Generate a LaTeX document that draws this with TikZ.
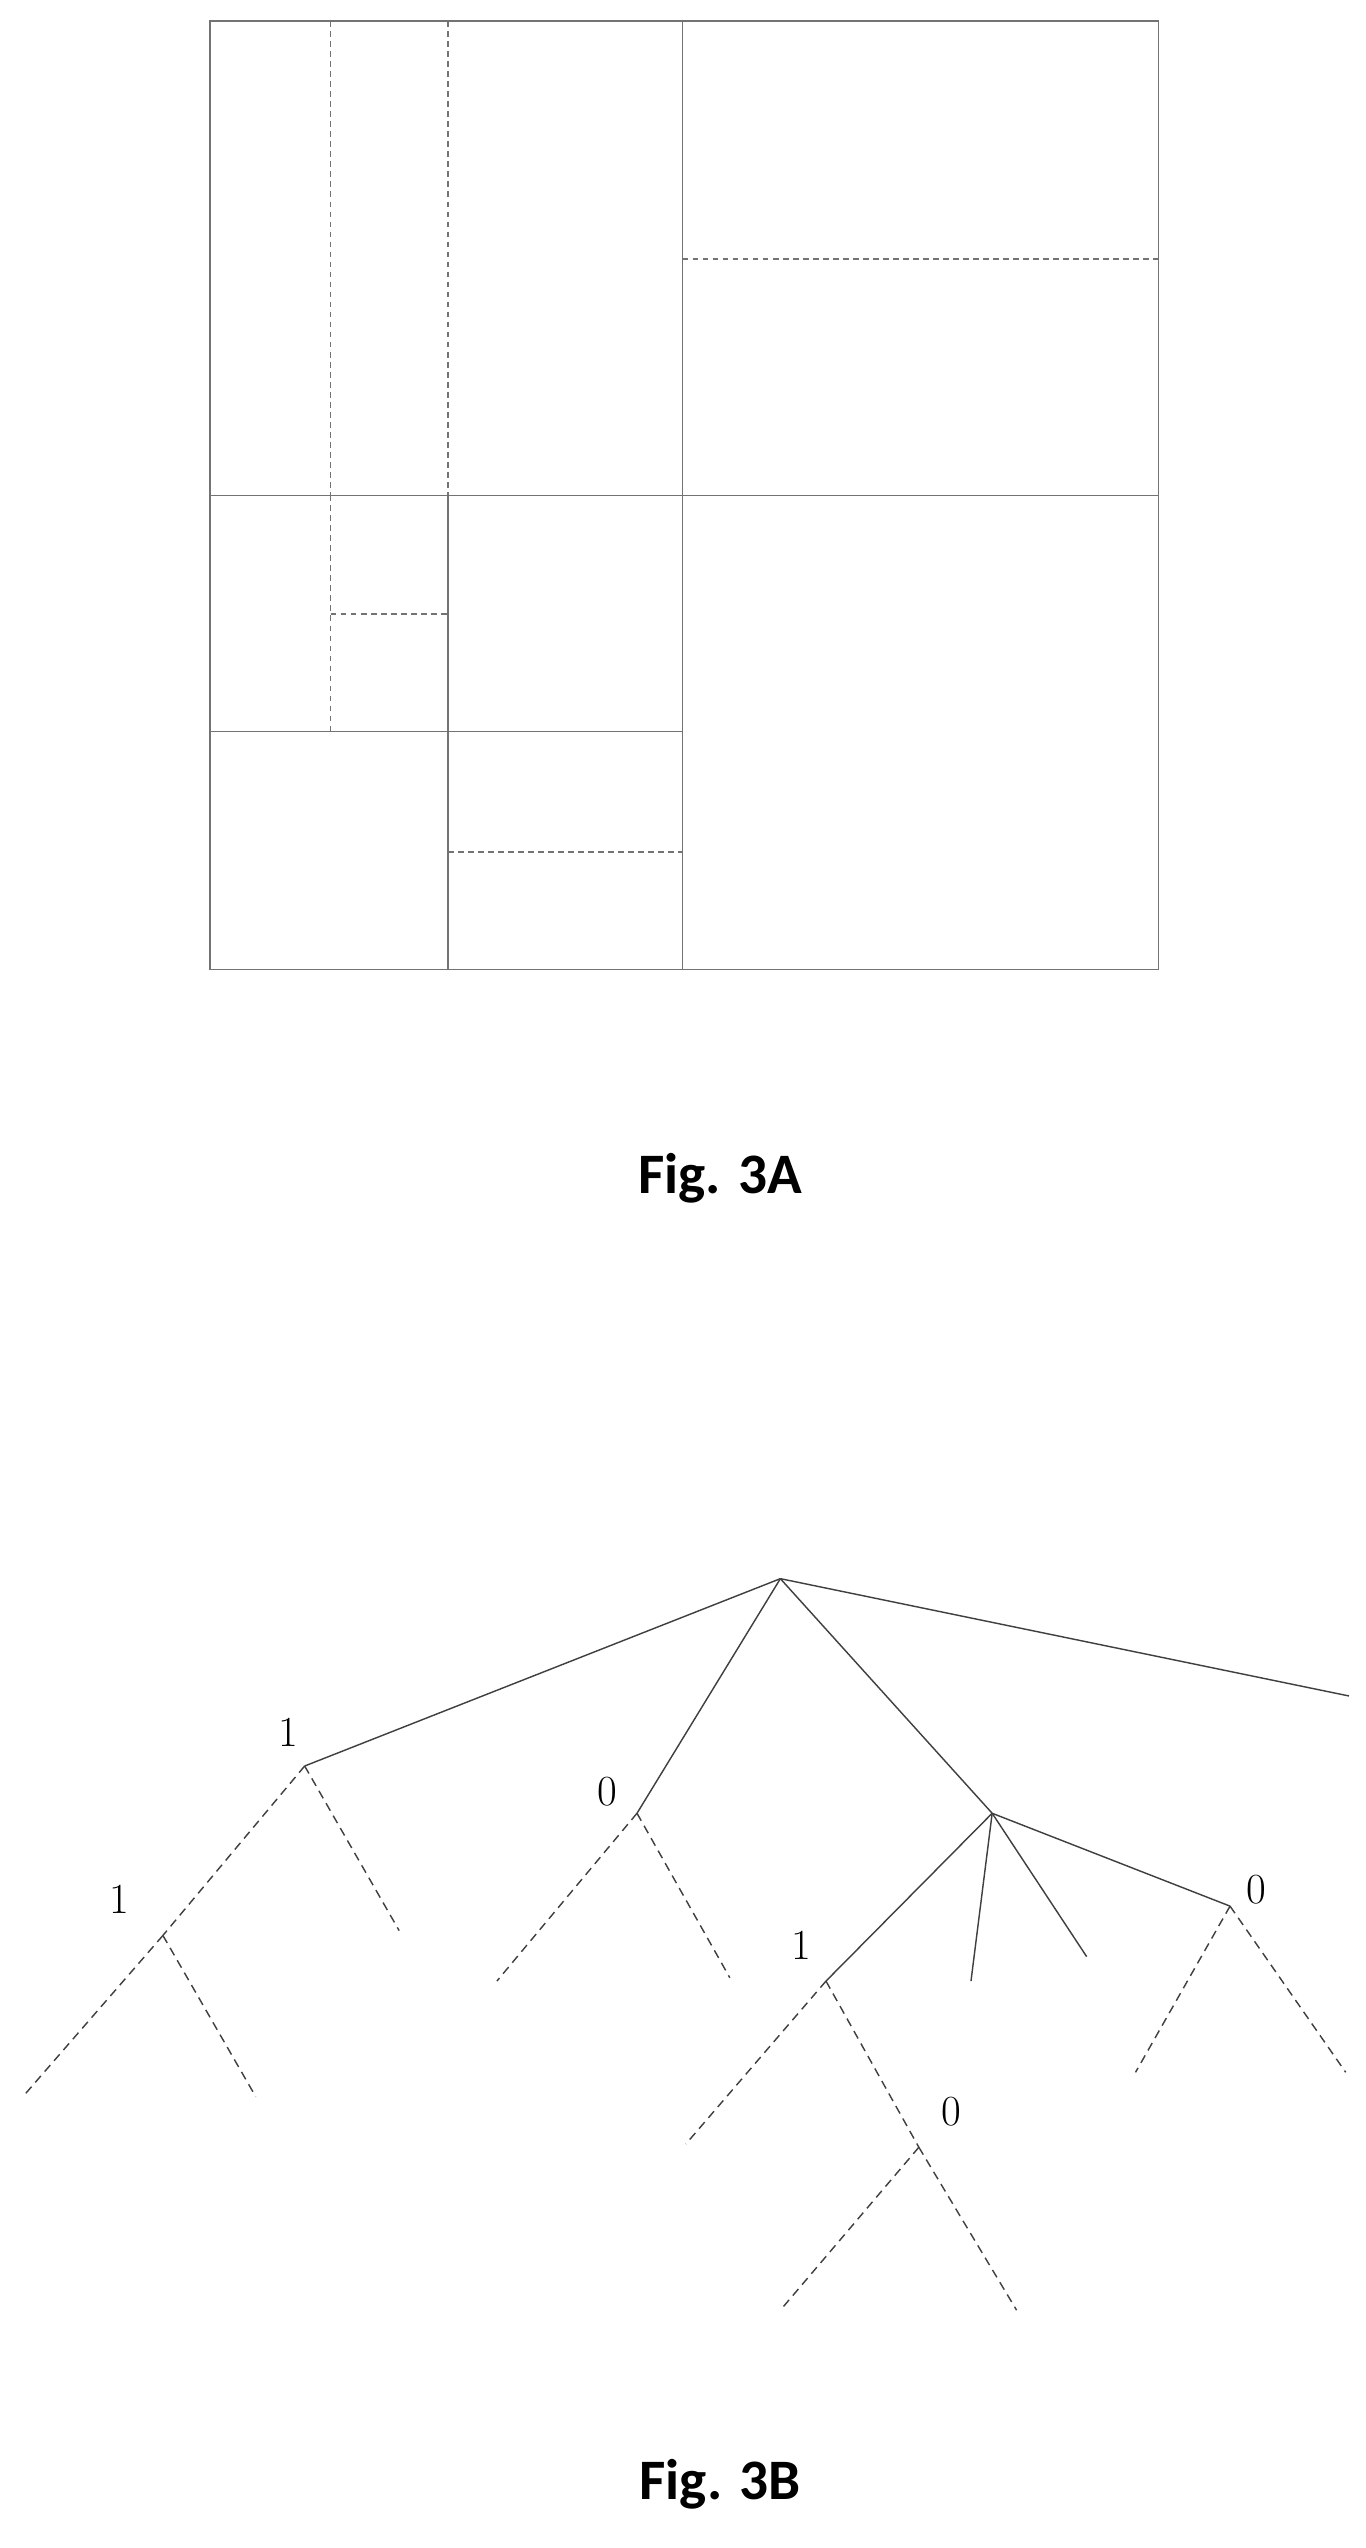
\documentclass[tikz,border=0pt]{standalone}
\usepackage{fontspec}
\newfontfamily\capfont{Carlito}
\begin{document}
\begin{tikzpicture}[x=0.02cm,y=-0.02cm,
    solid line/.style={draw=black!55,line width=0.5pt},
    dash line/.style={draw=black!55,line width=0.5pt,dash pattern=on 2pt off 1.5pt},
    tree solid/.style={draw=black!75,line width=0.5pt},
    tree dash/.style={draw=black!75,line width=0.5pt,dash pattern=on 3pt off 2pt},
    bit/.style={font=\fontsize{15}{15}\selectfont},
    caption/.style={font=\capfont\bfseries\fontsize{20}{20}\selectfont}]
  \useasboundingbox (0,0) rectangle (838,1564);
  % Fig. 3A partition
  \draw[solid line] (129,13) rectangle (711,595);
  \draw[solid line] (419,13) -- (419,595);
  \draw[solid line] (129,304) -- (711,304);
  \draw[dash line] (203,13) -- (203,304);
  \draw[dash line] (275,13) -- (275,304);
  \draw[dash line] (419,159) -- (711,159);
  \draw[solid line] (129,449) -- (419,449);
  \draw[solid line] (275,304) -- (275,595);
  \draw[dash line] (203,304) -- (203,449);
  \draw[dash line] (203,377) -- (275,377);
  \draw[dash line] (275,523) -- (419,523);
  \node[caption] (capA) at (442,723) {Fig. 3A};
  % Fig. 3B tree
  \coordinate (root) at (479,969);
  \coordinate (a) at (187,1084);
  \coordinate (b) at (391,1113);
  \coordinate (c) at (609,1113);
  \coordinate (d) at (828,1041);
  \coordinate (aa) at (100,1188);
  \coordinate (ab) at (245,1185);
  \coordinate (aaa) at (14,1287);
  \coordinate (aab) at (157,1287);
  \coordinate (ba) at (305,1216);
  \coordinate (bb) at (448,1214);
  \coordinate (ca) at (507,1216);
  \coordinate (cb) at (596,1216);
  \coordinate (cc) at (667,1201);
  \coordinate (cd) at (755,1170);
  \coordinate (caa) at (421,1316);
  \coordinate (cab) at (564,1318);
  \coordinate (caba) at (479,1418);
  \coordinate (cabb) at (624,1418);
  \coordinate (cda) at (697,1272);
  \coordinate (cdb) at (826,1272);
  \foreach \p/\q in {root/a,root/b,root/c,root/d,c/ca,c/cb,c/cc,c/cd}
    \draw[tree solid] (\p) -- (\q);
  \foreach \p/\q in {a/aa,a/ab,aa/aaa,aa/aab,b/ba,b/bb,ca/caa,ca/cab,cab/caba,cab/cabb,cd/cda,cd/cdb}
    \draw[tree dash] (\p) -- (\q);
  \node[bit] (la) at (177,1063) {1};
  \node[bit] (laa) at (73,1166) {1};
  \node[bit] (lb) at (373,1100) {0};
  \node[bit] (lca) at (492,1194) {1};
  \node[bit] (lcab) at (584,1296) {0};
  \node[bit] (lcd) at (771,1160) {0};
  \node[caption] (capB) at (442,1525) {Fig. 3B};
\end{tikzpicture}
\end{document}
